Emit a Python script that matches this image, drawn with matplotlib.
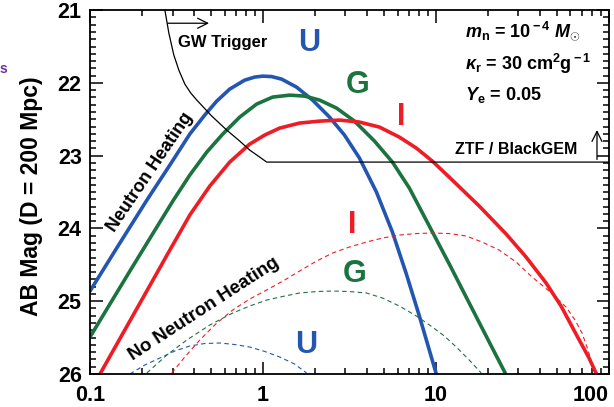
import numpy as np
import matplotlib
matplotlib.use('Agg')
import matplotlib.pyplot as plt
from matplotlib.ticker import MultipleLocator, LogLocator, NullFormatter

# light curves with neutron heating (solid): time [days] vs AB mag
t_u = [0.1000, 0.1451, 0.2133, 0.2895, 0.3776, 0.4608, 0.5405, 0.6424, 0.7842, 0.8956,
       0.9961, 1.1225, 1.2820, 1.5649, 1.9357, 2.4260, 2.9607, 3.6141, 4.5313, 5.6041,
       6.7483, 8.0224, 10.053]
m_u = [24.860, 24.242, 23.610, 23.129, 22.703, 22.442, 22.250, 22.085, 21.962, 21.920,
       21.907, 21.913, 21.948, 22.058, 22.236, 22.470, 22.717, 23.033, 23.500, 24.049,
       24.626, 25.203, 26.000]

t_g = [0.1000, 0.1304, 0.1701, 0.2280, 0.3012, 0.3776, 0.4732, 0.5855, 0.7337, 0.9196,
       1.1376, 1.4261, 1.7400, 2.1247, 2.6627, 3.3822, 4.4127, 5.6041, 7.0224, 9.1613,
       11.950, 15.585, 20.33, 25.15]
m_g = [25.492, 25.038, 24.585, 24.091, 23.624, 23.266, 22.951, 22.703, 22.470, 22.291,
       22.195, 22.168, 22.181, 22.236, 22.346, 22.525, 22.799, 23.088, 23.445, 23.967,
       24.489, 25.025, 25.560, 25.986]

t_i = [0.1142, 0.1819, 0.2895, 0.3776, 0.4925, 0.6424, 0.8381, 1.0228, 1.2484, 1.6285,
       2.1247, 2.7710, 3.6141, 4.7154, 6.1489, 7.7090, 9.5324, 12.435, 17.80, 25.49,
       33.23, 43.37, 52.92, 64.59, 76.79, 84.26]
m_i = [26.000, 25.148, 24.297, 23.816, 23.418, 23.088, 22.841, 22.717, 22.621, 22.552,
       22.525, 22.511, 22.538, 22.607, 22.745, 22.896, 23.074, 23.335, 23.692, 24.077,
       24.393, 24.750, 25.066, 25.451, 25.780, 25.986]

# without neutron heating (dashed)
t_u0 = [0.1701, 0.2077, 0.2535, 0.3094, 0.3776, 0.4608, 0.5625, 0.6866, 0.8381, 1.0228,
        1.2484, 1.5237, 1.7870]
m_u0 = [26.000, 25.876, 25.780, 25.684, 25.615, 25.581, 25.574, 25.595, 25.629, 25.690,
        25.766, 25.863, 25.986]

t_g0 = [0.2133, 0.2782, 0.3628, 0.4925, 0.6686, 0.8381, 1.0505, 1.3341, 1.6285, 2.0417,
        2.5246, 3.1645, 3.9665, 4.9072, 6.1489, 7.7090, 9.5324, 11.183, 13.115, 15.585,
        18.28]
m_g0 = [25.986, 25.739, 25.533, 25.327, 25.162, 25.066, 24.984, 24.929, 24.887, 24.867,
        24.860, 24.867, 24.887, 24.956, 25.066, 25.203, 25.354, 25.478, 25.629, 25.808,
        25.986]

t_i0 = [0.2973, 0.3534, 0.4313, 0.5334, 0.6686, 0.8381, 1.0505, 1.3341, 1.6285, 2.0417,
        2.5246, 3.1645, 3.9665, 4.9072, 6.1489, 7.7090, 9.5324, 11.950, 14.979, 18.52,
        23.22, 29.10, 36.00, 45.13, 56.55, 63.74, 69.96, 75.77, 79.90, 83.15]
m_i0 = [25.986, 25.766, 25.533, 25.313, 25.121, 24.970, 24.846, 24.709, 24.585, 24.448,
        24.338, 24.255, 24.187, 24.132, 24.091, 24.070, 24.063, 24.070, 24.104, 24.187,
        24.297, 24.462, 24.668, 24.860, 25.080, 25.258, 25.437, 25.670, 25.863, 26.000]

# GW trigger / ZTF-BlackGEM limit
t_lim = [0.2710, 0.2857, 0.3053, 0.3263, 0.3534, 0.3826, 0.4144, 0.5058, 0.6173, 0.7337,
         0.8381, 0.9572, 1.0505, 100.0]
m_lim = [21.000, 21.316, 21.618, 21.824, 22.016, 22.140, 22.236, 22.456, 22.648, 22.799,
         22.923, 23.019, 23.088, 23.088]

xticks = [0.1, 1, 10, 100]
xticklabels = ['0.1', '1', '10', '100']
yticks = [21, 22, 23, 24, 25, 26]

blue = '#2356b0'
green = '#1b7340'
red = '#ee1c24'

plt.rcParams['font.family'] = ['Liberation Sans', 'DejaVu Sans']
plt.rcParams['font.weight'] = 'bold'
plt.rcParams['mathtext.fontset'] = 'custom'
plt.rcParams['mathtext.rm'] = 'Liberation Sans:bold'
plt.rcParams['mathtext.it'] = 'Liberation Sans:italic:bold'
plt.rcParams['mathtext.bf'] = 'Liberation Sans:bold'

fig = plt.figure(figsize=(6.14, 4.07), dpi=100)
ax = fig.add_axes([0.1466, 0.0811, 0.845, 0.894])

ax.plot(t_u, m_u, color=blue, lw=2.6)
ax.plot(t_g, m_g, color=green, lw=2.6)
ax.plot(t_i, m_i, color=red, lw=2.6)
ax.plot(t_u0, m_u0, color=blue, lw=0.8, ls=(0, (4, 3)))
ax.plot(t_g0, m_g0, color=green, lw=0.8, ls=(0, (4, 3)))
ax.plot(t_i0, m_i0, color=red, lw=0.8, ls=(0, (4, 3)))
ax.plot(t_lim, m_lim, color='black', lw=0.9)

# arrows
ax.annotate('', xy=(0.506, 21.18), xytext=(0.271, 21.18),
            arrowprops=dict(arrowstyle='->', lw=0.9, color='black', mutation_scale=18))
ax.annotate('', xy=(85.4, 22.61), xytext=(85.4, 23.09),
            arrowprops=dict(arrowstyle='->', lw=0.9, color='black', mutation_scale=18))

ax.text(0.322, 21.45, 'GW Trigger', fontsize=12, ha='left', va='center')
ax.text(65.5, 22.92, 'ZTF / BlackGEM', fontsize=11.5, ha='right', va='center')
ax.text(0.222, 23.23, 'Neutron Heating', fontsize=13, rotation=56, ha='center', va='center')
ax.text(0.455, 25.11, 'No Neutron Heating', fontsize=13.5, rotation=33, ha='center', va='center')

ax.text(1.86, 21.45, 'U', color=blue, fontsize=22, ha='center', va='center')
ax.text(3.52, 22.03, 'G', color=green, fontsize=22, ha='center', va='center')
ax.text(6.32, 22.47, 'I', color=red, fontsize=22, ha='center', va='center')
ax.text(3.29, 23.95, 'I', color=red, fontsize=22, ha='center', va='center')
ax.text(3.38, 24.63, 'G', color=green, fontsize=22, ha='center', va='center')
ax.text(1.79, 25.60, 'U', color=blue, fontsize=22, ha='center', va='center')

ax.text(0.7225, 0.926, r'$m_{\rm n}$ = 10$^{\rm -4}$ $M_{\odot}$', transform=ax.transAxes,
        fontsize=13, ha='left', va='baseline')
ax.text(0.7225, 0.835, r'$\kappa_{\rm r}$ = 30 cm$^{\rm 2}$g$^{\rm -1}$', transform=ax.transAxes,
        fontsize=13, ha='left', va='baseline')
ax.text(0.7225, 0.753, r'$Y_{\rm e}$ = 0.05', transform=ax.transAxes,
        fontsize=13, ha='left', va='baseline')

# cut-off text at the left border of the original figure
fig.text(0.0, 0.83, 's', color='#7030a0', fontsize=10, ha='left', va='center')

ax.set_xscale('log')
ax.set_xlim(0.1, 100)
ax.set_ylim(26, 21)
ax.set_xticks(xticks)
ax.set_xticklabels(xticklabels)
ax.xaxis.set_minor_locator(LogLocator(base=10, subs=np.arange(2, 10)))
ax.xaxis.set_minor_formatter(NullFormatter())
ax.set_yticks(yticks)
ax.yaxis.set_minor_locator(MultipleLocator(0.1))

ax.tick_params(which='both', direction='in', top=True, right=True, width=1.1, labelsize=15.5)
ax.tick_params(which='major', length=9)
ax.tick_params(which='minor', length=4.5)
ax.tick_params(axis='x', pad=8)
ax.tick_params(axis='y', pad=6)
ax.get_xticklabels()[-1].set_ha('right')
for s in ax.spines.values():
    s.set_linewidth(1.3)

ax.set_ylabel('AB Mag (D = 200 Mpc)', fontsize=16.5, fontweight='bold')
ax.yaxis.set_label_coords(-0.0906, 0.49)

fig.savefig('out.png', dpi=100)
